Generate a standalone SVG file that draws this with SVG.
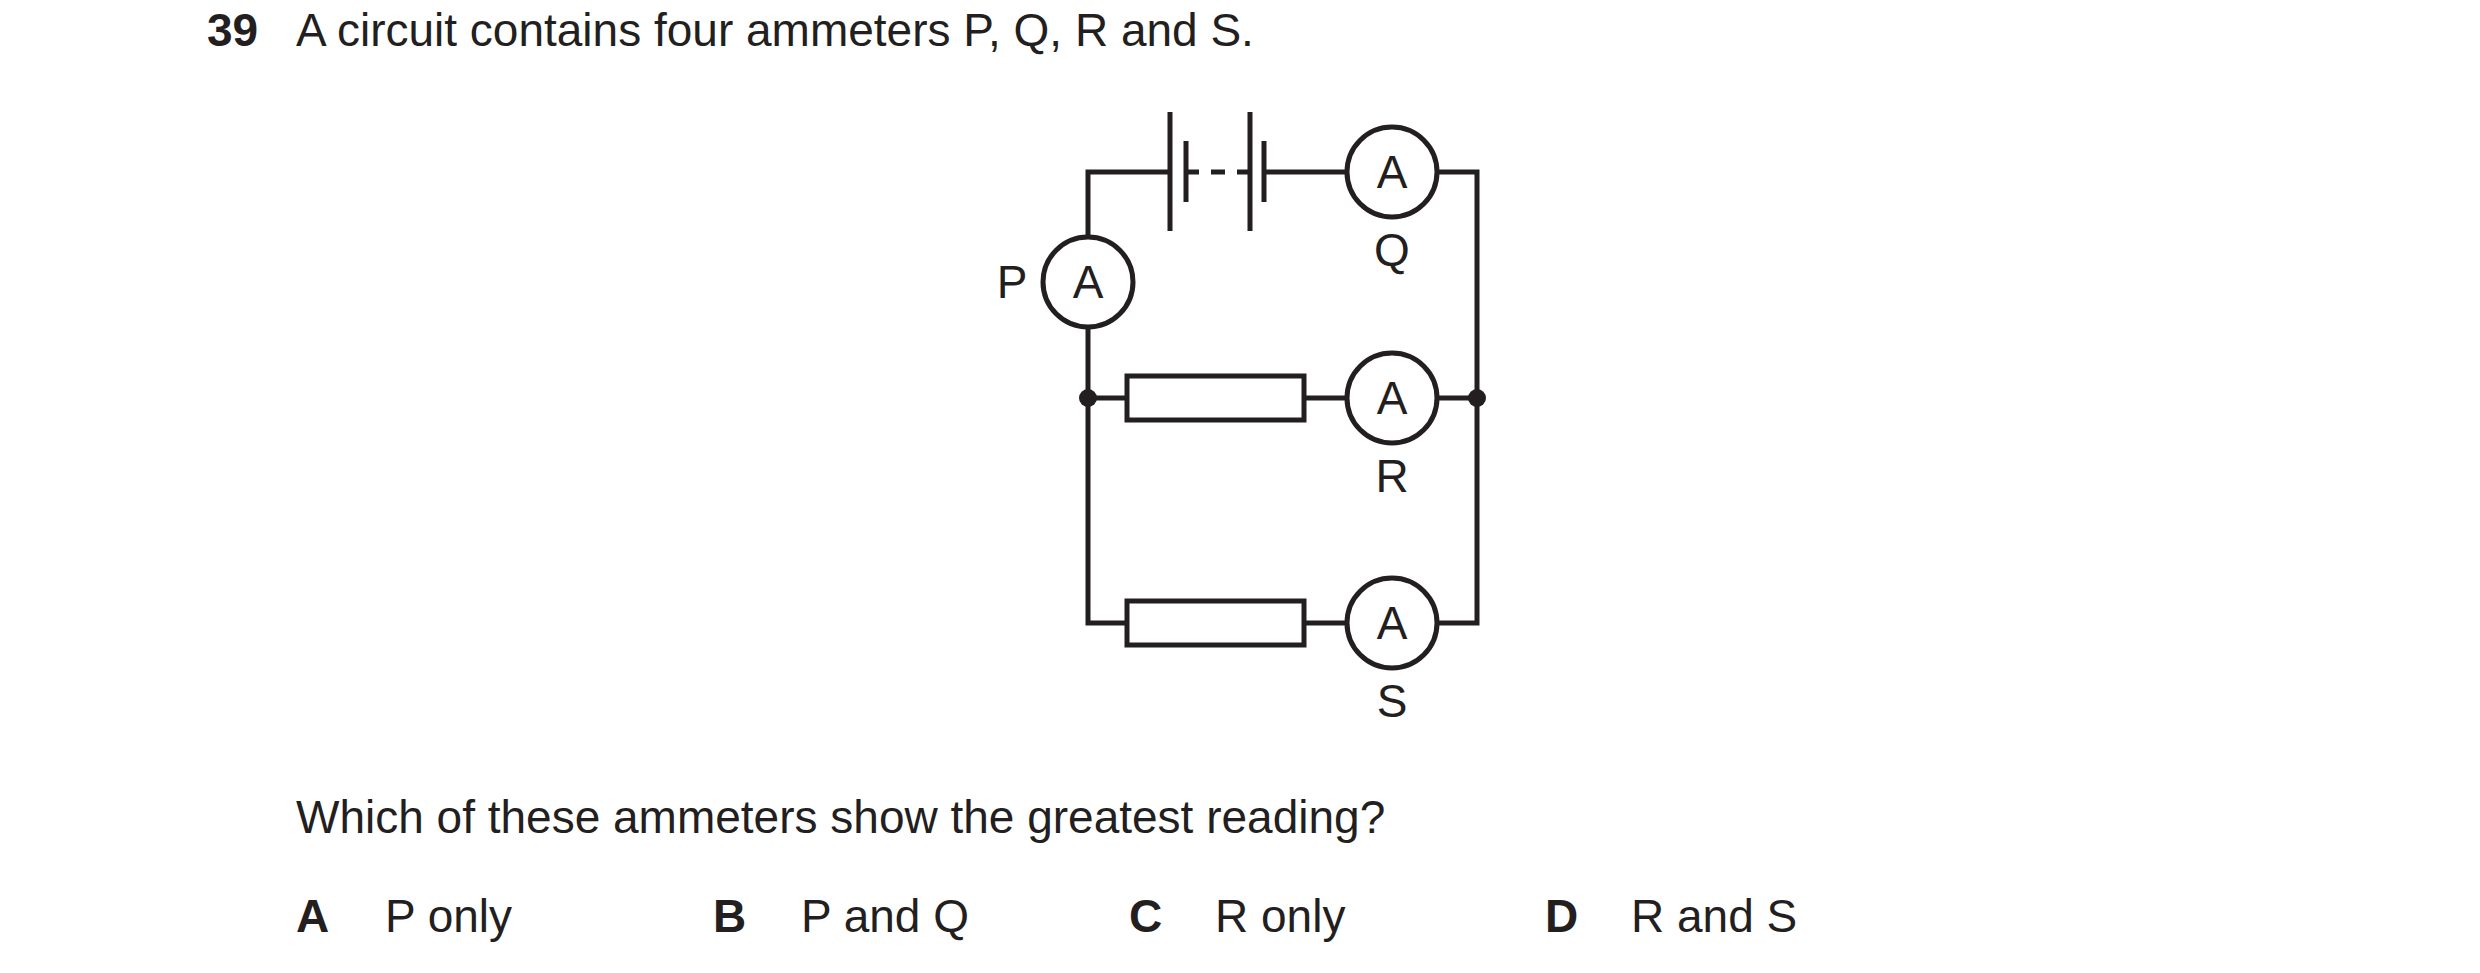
<svg xmlns="http://www.w3.org/2000/svg" width="2480" height="973" viewBox="0 0 2480 973">
<style>
text{font-family:"Liberation Sans",Arial,sans-serif;font-size:46px;fill:#231f20}
.b{font-weight:bold}
.m{text-anchor:middle}
.w{fill:none;stroke:#231f20;stroke-width:5}
.c{fill:#fff;stroke:#231f20;stroke-width:5}
</style>
<rect width="2480" height="973" fill="#fff"/>
<text x="207" y="46" class="b">39</text>
<text x="296" y="46">A circuit contains four ammeters P, Q, R and S.</text>
<g id="connectors">
<path class="w" d="M1088,237 V172 H1170 M1186,172 H1199 M1211,172 H1225 M1237,172 H1250 M1264,172 H1392 H1477 V623 H1392 M1088,327 V623 H1392 M1088,398 H1477"/>
<path class="w" d="M1170,112 V231 M1186,141 V202 M1250,112 V231 M1264,141 V202"/>
<circle cx="1088" cy="398" r="9" fill="#231f20"/>
<circle cx="1477" cy="398" r="9" fill="#231f20"/>
</g>
<g id="P"><circle class="c" cx="1088" cy="282" r="45"/><text x="1088" y="298" class="m">A</text><text x="1012" y="298" class="m">P</text></g>
<g id="Q"><circle class="c" cx="1392" cy="172" r="45"/><text x="1392" y="188" class="m">A</text><text x="1392" y="266" class="m">Q</text></g>
<g id="R1"><rect class="c" x="1127" y="376" width="177" height="44"/></g>
<g id="R"><circle class="c" cx="1392" cy="398" r="45"/><text x="1392" y="414" class="m">A</text><text x="1392" y="492" class="m">R</text></g>
<g id="R2"><rect class="c" x="1127" y="601" width="177" height="44"/></g>
<g id="S"><circle class="c" cx="1392" cy="623" r="45"/><text x="1392" y="639" class="m">A</text><text x="1392" y="717" class="m">S</text></g>
<text x="296" y="833">Which of these ammeters show the greatest reading?</text>
<text x="296" y="932" class="b">A</text><text x="385" y="932">P only</text>
<text x="713" y="932" class="b">B</text><text x="801" y="932">P and Q</text>
<text x="1129" y="932" class="b">C</text><text x="1215" y="932">R only</text>
<text x="1545" y="932" class="b">D</text><text x="1631" y="932">R and S</text>
</svg>
